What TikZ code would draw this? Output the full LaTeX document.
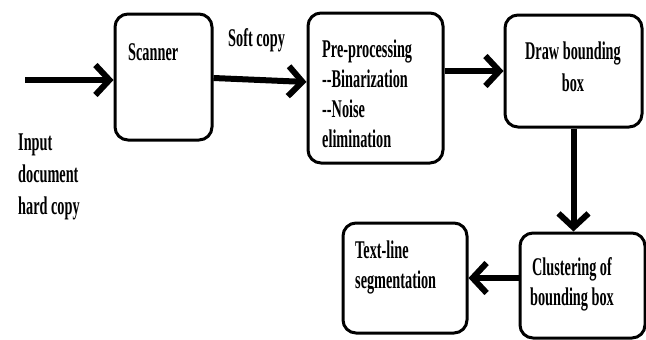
\documentclass[tikz,border=0pt]{standalone}
\usepackage{fontspec}
\setmainfont{Liberation Serif}[FakeStretch=0.56]
\usepackage{tikz}
\usetikzlibrary{arrows.meta, positioning}

\begin{document}
\begin{tikzpicture}[x=1pt, y=-1pt,
  box/.style={draw, line width=3pt, rounded corners=13pt, inner sep=0pt},
  lbl/.style={inner sep=0pt, font=\fontsize{25.5}{30}\selectfont\bfseries},
  flow/.style={line width=6pt, -{Straight Barb[length=14pt, width=30pt]}}]

\useasboundingbox (0,0) rectangle (646,340);

% === Boxes ===
\node[box, minimum width=97pt, minimum height=126pt] (scanner) at (163.5,77) {};
\node[box, minimum width=135pt, minimum height=150pt] (pre) at (375.5,88) {};
\node[box, minimum width=137pt, minimum height=112pt] (bbox) at (573.5,71) {};
\node[box, minimum width=125pt, minimum height=105pt] (cluster) at (582.5,285.5) {};
\node[box, minimum width=124pt, minimum height=110pt] (textline) at (405,278) {};

% === Labels ===
\node[lbl, anchor=north west, align=left] (inlbl) at (18,134)
     {Input\\[2pt] document\\[2pt] hard copy};
\node[lbl, anchor=north west] (scanlbl) at (128,43) {Scanner};
\node[lbl, anchor=north west] (softlbl) at (228,28) {Soft copy};
\node[lbl, anchor=north west, align=left] (prelbl) at (322,40)
     {Pre-processing\\-{}-Binarization\\-{}-Noise\\elimination};
\node[lbl, anchor=north, align=center] (bboxlbl) at (573,42) {Draw bounding\\[2pt] box};
\node[lbl, anchor=north, align=center] (clustlbl) at (572,257) {Clustering of\\bounding box};
\node[lbl, anchor=north west, align=left] (textlbl) at (355,241) {Text-line\\segmentation};

% === Arrows ===
\coordinate (src) at (25,80);
\draw[flow] (src) -- (src -| scanner.west);
\draw[flow] ([yshift=-1pt]scanner.east) -- ([yshift=6pt]pre.west);
\draw[flow] (pre.east |- bbox.west) -- (bbox.west);
\draw[flow] (bbox.south) -- (bbox.south |- cluster.north);
\draw[flow] (cluster.west |- textline.east) -- (textline.east);

\end{tikzpicture}
\end{document}
